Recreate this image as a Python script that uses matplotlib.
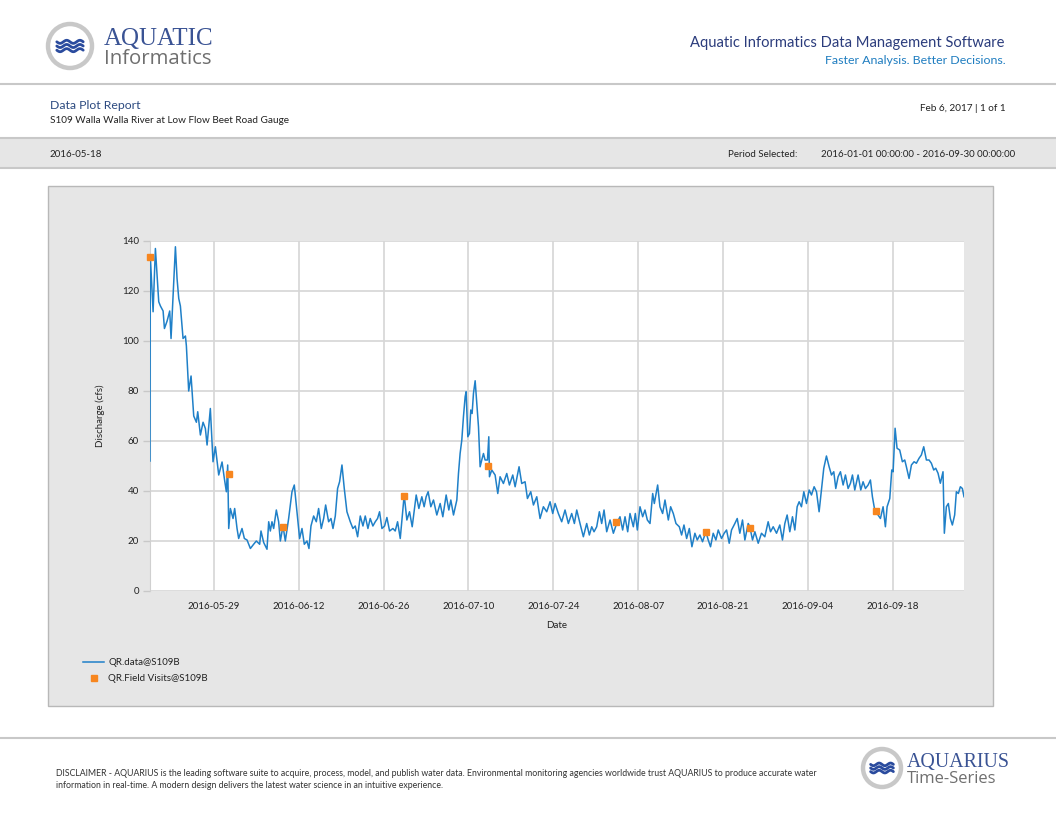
import numpy as np
import pandas as pd
import matplotlib
matplotlib.use('Agg')
import matplotlib.pyplot as plt
import matplotlib.patches as patches
from matplotlib.lines import Line2D
from matplotlib.transforms import IdentityTransform

# discharge record, days after 2016-05-18 00:00 and cfs
flow_days = [
    0.50, 0.55, 1.01, 1.39, 1.94, 2.22, 2.66, 2.88, 3.32, 3.75,
    3.97, 4.30, 4.69, 4.96, 5.24, 5.51, 5.95, 6.34, 6.50, 6.88,
    7.27, 7.71, 8.15, 8.37, 8.81, 9.25, 9.63, 9.91, 10.45, 10.89,
    11.28, 11.83, 12.38, 12.76, 13.09, 13.31, 13.48, 13.75, 14.19, 14.46,
    14.85, 15.12, 15.67, 16.06, 16.50, 17.05, 17.59, 18.03, 18.58, 18.80,
    19.24, 19.79, 20.07, 20.34, 20.61, 20.89, 21.33, 21.71, 21.99, 22.43,
    22.81, 23.36, 23.91, 24.29, 24.73, 25.17, 25.56, 25.94, 26.38, 26.71,
    27.04, 27.48, 27.92, 28.30, 28.74, 29.13, 29.46, 29.95, 30.34, 30.67,
    31.05, 31.43, 31.76, 32.15, 32.53, 32.97, 33.52, 33.96, 34.34, 34.73,
    35.17, 35.61, 35.99, 36.43, 36.81, 37.25, 37.64, 38.02, 38.35, 38.74,
    39.18, 39.56, 40.00, 40.55, 40.93, 41.32, 41.76,
    42.41, 42.85, 43.29, 43.73, 44.39, 44.83, 45.32, 45.70, 46.03, 46.36,
    46.80, 47.24, 47.79, 48.34, 48.78, 49.33, 49.77, 50.10, 50.54, 51.09,
    51.36, 51.63, 51.91, 52.18, 52.46, 52.62, 52.90, 53.17, 53.39, 53.61,
    53.83, 54.11, 54.38, 54.66, 54.93, 55.20, 55.48, 55.75, 56.14, 56.36,
    56.47, 56.85, 57.40, 57.84, 58.22, 58.77, 59.32, 59.76, 60.31, 60.70,
    61.35, 61.79, 62.34, 62.73, 63.28, 63.72, 64.27, 64.81, 65.36, 65.91,
    66.46, 66.90, 67.29, 67.83, 68.38, 68.93, 69.48, 70.03, 70.47, 70.86,
    71.40, 71.95, 72.50, 72.94, 73.33, 73.71, 74.15, 74.59, 74.97, 75.36,
    75.80, 76.35, 76.90, 77.44, 77.99, 78.43, 78.82, 79.26, 79.64, 80.19,
    80.52, 80.85, 81.29, 81.73, 82.11, 82.50, 82.94, 83.38, 83.65, 84.20,
    84.58, 85.02, 85.41, 85.96, 86.34, 86.78, 87.22, 87.77, 88.15, 88.54,
    88.98, 89.42,
    89.85, 90.34, 90.73, 91.16, 91.60, 92.15, 92.54, 92.92, 93.36, 93.80,
    94.19, 94.73, 95.17, 95.56, 96.00, 96.38, 96.93, 97.32, 97.75, 98.19,
    98.58, 99.13, 99.40, 99.84, 100.23, 100.78, 101.32, 101.87, 102.42, 102.81,
    103.25, 103.80, 104.34, 104.78, 105.17, 105.55, 105.99, 106.43, 106.82, 107.20,
    107.53, 107.91, 108.30, 108.74, 109.18, 109.56, 110.00, 110.39, 110.82, 111.21,
    111.59, 112.03, 112.47, 112.86, 113.24, 113.57, 113.95, 114.34, 114.78, 115.16,
    115.60, 115.99, 116.32, 116.70, 117.25, 117.69, 118.07, 118.46, 118.90, 119.28,
    119.61, 119.99, 120.54, 120.93, 121.37, 121.75, 122.03, 122.47, 122.80, 123.02,
    123.35, 123.67, 124.11, 124.55, 124.94, 125.21, 125.65, 126.04, 126.48, 126.86,
    127.30, 127.68, 128.07, 128.51, 128.95, 129.33, 129.72, 130.05, 130.43, 130.81,
    131.25, 131.47, 131.80, 132.13, 132.46, 132.79, 133.17, 133.45, 133.78, 134.11,
    134.44, 134.71,
]
flow_cfs = [
    52, 134, 111.7, 137, 115.7, 114, 112, 105, 108, 112,
    101, 118, 137.7, 125, 117, 114, 101, 102, 98, 80,
    86, 70, 67.5, 71.7, 62.4, 67.5, 65, 58.4, 73, 51.7,
    57.7, 46.4, 51.6, 45, 39.7, 50.4, 25, 33, 29, 33,
    25, 21, 25, 21, 20.4, 17, 18.7, 20, 18.7, 24,
    19.4, 16.7, 27.7, 24, 27.7, 25, 32.4, 27.7, 20, 26,
    20, 29, 39.7, 42.4, 31.7, 21, 25, 18.7, 20, 17,
    26, 30, 27.7, 33, 25, 29, 34.4, 27.7, 29, 25,
    30, 41, 43.7, 50.4, 41, 31.7, 27.7, 25, 26, 21.7,
    30, 26, 30, 25, 29, 26, 27.7, 29, 31.7, 25,
    26, 29.4, 24, 25, 24, 27.7, 21,
    38.4, 28.4, 31.7, 25.7, 38.4, 33, 37.7, 33.7, 37.7, 39.7,
    33.7, 36.4, 30.4, 35, 29.7, 38.4, 32.4, 36.4, 30.4, 36.4,
    47, 55, 60.4, 69.7, 77.7, 79.7, 61.7, 63, 72.4, 71,
    79, 84.1, 75, 65.7, 49.7, 52.4, 55, 52.4, 52.4, 61.7,
    45.7, 48.4, 46.4, 39, 45.7, 43, 47, 42.4, 46.4, 41.7,
    49.7, 43, 43.7, 37, 39.7, 34.4, 37.7, 29, 33.7, 31.7,
    35.7, 31, 35, 31, 27.7, 32.4, 27, 31, 27, 32.4,
    27, 21.7, 27, 22.4, 25.7, 23.7, 25.7, 31.7, 27, 32.4,
    23.7, 28.4, 23.1, 27, 29.7, 24.4, 29.7, 23.7, 31, 25.7,
    31, 24.4, 33.7, 29.7, 32.4, 28.4, 27, 39, 35, 42.4,
    33.7, 31, 36.4, 28.4, 33.7, 31, 27, 25.7, 22.4, 26.4,
    21, 25,
    17.7, 23.1, 20.4, 22.4, 19.7, 23.7, 20.4, 17.7, 23.1, 20.4,
    24.4, 21, 23.1, 24.4, 19.1, 24.4, 27, 29, 23.1, 28.4,
    20.4, 27, 25.7, 20.4, 23.7, 19.1, 23.1, 21.7, 27.7, 23.7,
    25.7, 23.1, 26.4, 20.4, 27, 30.4, 23.7, 29.7, 24.4, 33.7,
    35.7, 33.7, 39.7, 35, 40.4, 38.4, 41.7, 39.7, 31.7, 40.4,
    49.1, 54, 49.7, 46.4, 47.7, 41, 45.7, 47.7, 42.4, 46.4,
    41, 43.1, 46.4, 40.4, 46.4, 40.4, 43.7, 41, 42.4, 44.4,
    37.7, 32.4, 30.4, 29, 33.7, 25.7, 33.7, 37, 48.4, 47.7,
    65.1, 57.1, 56.4, 51.7, 52.4, 49.7, 45, 50.4, 51.7, 51.1,
    53.1, 54.4, 57.7, 52.4, 52.4, 51.1, 48.4, 49.1, 47.1, 43.1,
    47.7, 23.1, 33.7, 35, 29, 26.4, 30.4, 39.7, 39, 41.7,
    41, 37.7,
]

# field visit measurements
visit_days = [0.46, 13.47, 22.37, 42.46, 56.30, 77.34, 92.15, 99.40, 120.27]
visit_cfs = [133.5, 47, 25.7, 38.1, 50.1, 27.7, 23.5, 25.3, 32.1]

tick_dates = ['2016-05-29', '2016-06-12', '2016-06-26', '2016-07-10', '2016-07-24',
              '2016-08-07', '2016-08-21', '2016-09-04', '2016-09-18']
y_ticks = [0, 20, 40, 60, 80, 100, 120, 140]

start = pd.Timestamp('2016-05-18')
flow_t = start + pd.to_timedelta(flow_days, unit='D')
visit_t = start + pd.to_timedelta(visit_days, unit='D')

W, H = 1056, 816
blue_line = '#1f80c8'
orange = '#f7861f'
txt = '#222222'
plt.rcParams['font.family'] = ['Lato', 'DejaVu Sans']


def px(x, y):
    return x / W, 1 - y / H


fig = plt.figure(figsize=(W / 100, H / 100), dpi=100)
fig.patch.set_facecolor('white')
pix = IdentityTransform()


def hline(y, color='#c8c8c8', lw=1.5):
    fig.add_artist(Line2D([0, 1], [1 - y / H, 1 - y / H], color=color, lw=lw))


def logo(cx, cy, r):
    ring = patches.Circle((cx, H - cy), r, transform=pix, fc='white', ec='#c8c8c8', lw=3.2)
    fig.add_artist(ring)
    # wave glyph
    xs = np.linspace(cx - r * 0.6, cx + r * 0.6, 40)
    for dy in [-0.19, 0.0, 0.19]:
        ys = cy + dy * r + 0.07 * r * np.sin((xs - xs[0]) / (r * 1.2) * 2 * np.pi * 2)
        fig.add_artist(Line2D(xs, H - ys, transform=pix, color='#2a4b9e', lw=2.0,
                              solid_capstyle='round'))


# header
logo(70, 46, 22)
fig.text(*px(104, 45), 'AQUATIC', fontsize=18, family='Liberation Serif',
         color='#3a5394', va='baseline', ha='left')
fig.text(*px(104, 64), 'Informatics', fontsize=14.7, family='Open Sans',
         color='#6f6f6f', va='baseline', ha='left')
fig.text(*px(1005, 47), 'Aquatic Informatics Data Management Software', fontsize=10.6,
         color='#2b3c7c', va='baseline', ha='right')
fig.text(*px(1006, 64), 'Faster Analysis. Better Decisions.', fontsize=8.9,
         color='#1f7dc0', va='baseline', ha='right')
hline(84)

fig.text(*px(50, 109), 'Data Plot Report', fontsize=8.8, color='#2c4a80', va='baseline')
fig.text(*px(50, 123), 'S109 Walla Walla River at Low Flow Beet Road Gauge', fontsize=7.2,
         color=txt, va='baseline')
fig.text(*px(1006, 111), 'Feb 6, 2017 | 1 of 1', fontsize=7.2, color=txt,
         va='baseline', ha='right')

# grey band
fig.add_artist(patches.Rectangle(px(0, 168), 1, 30 / H, transform=fig.transFigure,
                                 fc='#e6e6e6', ec='none', zorder=-2))
hline(138)
hline(168)
fig.text(*px(50, 157), '2016-05-18', fontsize=7.0, color=txt, va='baseline')
fig.text(*px(728, 157), 'Period Selected:', fontsize=7.0, color=txt, va='baseline')
fig.text(*px(1015, 157), '2016-01-01 00:00:00 - 2016-09-30 00:00:00', fontsize=7.0,
         color=txt, va='baseline', ha='right')

# chart panel
fig.add_artist(patches.Rectangle(px(48, 706), 945 / W, 520 / H, transform=fig.transFigure,
                                 fc='#e6e6e6', ec='#b8b8b8', lw=1.0, zorder=-1))

ax = fig.add_axes([150 / W, 1 - 591 / H, 814 / W, 350 / H])
ax.set_facecolor('white')
ax.plot(flow_t, flow_cfs, color=blue_line, lw=1.1, label='QR.data@S109B', zorder=3)
ax.plot(visit_t, visit_cfs, ls='none', marker='s', ms=5, color=orange, mec=orange,
        label='QR.Field Visits@S109B', zorder=4, clip_on=False)

ax.set_xlim(flow_t[0], flow_t[-1])
ax.set_ylim(0, 140)
ax.set_yticks(y_ticks)
ax.set_xticks(pd.to_datetime(tick_dates))
ax.set_xticklabels(tick_dates)
ax.grid(True, color='#d6d6d6', lw=1.2)
ax.set_axisbelow(True)
for s in ['top', 'right', 'bottom']:
    ax.spines[s].set_visible(False)
ax.spines['left'].set_color('#d0d0d0')
ax.tick_params(axis='y', length=5, width=1.0, color='#c8c8c8', labelsize=7,
               labelcolor=txt, pad=3)
ax.tick_params(axis='x', length=0, labelsize=7, labelcolor=txt, pad=8)
ax.set_xlabel('Date', fontsize=7, color=txt, labelpad=7)
ax.set_ylabel('Discharge (cfs)', fontsize=7, color=txt, labelpad=12)

leg = fig.legend(loc='upper left', bbox_to_anchor=px(83, 658), frameon=False,
                 fontsize=7, handlelength=2.2, handletextpad=0.4, labelspacing=0.75,
                 borderaxespad=0, borderpad=0)
for t in leg.get_texts():
    t.set_color(txt)

# footer
hline(738)
fig.text(*px(56, 776), 'DISCLAIMER - AQUARIUS is the leading software suite to acquire, process, '
         'model, and publish water data. Environmental monitoring agencies worldwide trust '
         'AQUARIUS to produce accurate water', fontsize=6.3, color='#333333', va='baseline')
fig.text(*px(56, 788), 'information in real-time. A modern design delivers the latest water '
         'science in an intuitive experience.', fontsize=6.3, color='#333333', va='baseline')
logo(882, 768, 19)
fig.text(*px(907, 767), 'AQUARIUS', fontsize=14.3, family='Liberation Serif',
         color='#3a5394', va='baseline')
fig.text(*px(907, 783), 'Time-Series', fontsize=12, family='Open Sans',
         color='#6f6f6f', va='baseline')

fig.savefig('out.png', dpi=100)
